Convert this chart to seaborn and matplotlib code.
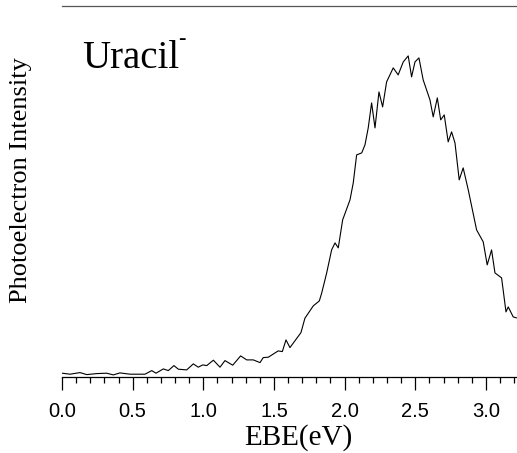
import numpy as np
import pandas as pd
import matplotlib
matplotlib.use("Agg")
import matplotlib.pyplot as plt
from matplotlib.ticker import MultipleLocator
import seaborn as sns

# Photoelectron spectrum of the uracil anion
ebe = [0.000, 0.057, 0.127, 0.175, 0.245, 0.316, 0.363, 0.410, 0.481, 0.587,
       0.635, 0.665, 0.717, 0.752, 0.792, 0.823, 0.882, 0.929, 0.964, 0.996,
       1.024, 1.071, 1.118, 1.153, 1.208, 1.264, 1.307, 1.354, 1.401, 1.424,
       1.460, 1.530, 1.559, 1.585, 1.613, 1.691, 1.719, 1.778, 1.821, 1.838,
       1.873, 1.908, 1.932, 1.955, 1.986, 2.038, 2.061, 2.085, 2.121, 2.144,
       2.167, 2.191, 2.215, 2.243, 2.269, 2.297, 2.344, 2.379, 2.415, 2.450,
       2.474, 2.498, 2.526, 2.556, 2.604, 2.627, 2.656, 2.680, 2.705, 2.733,
       2.757, 2.781, 2.811, 2.839, 2.875, 2.934, 2.981, 3.009, 3.040, 3.064,
       3.111, 3.142, 3.158, 3.193, 3.217]
intensity = [3.7, 2.7, 4.3, 2.3, 3.3, 3.7, 2.0, 4.0, 2.7, 2.7,
             6.3, 3.7, 8.0, 6.3, 11.3, 7.7, 7.0, 13.0, 9.7, 12.0,
             11.3, 16.7, 9.7, 16.3, 11.7, 21.0, 17.0, 17.0, 14.3, 19.3,
             19.7, 26.0, 25.3, 37.0, 29.3, 44.3, 58.7, 71.0, 76.0, 84,
             104, 127, 134, 129, 157, 177, 194, 222, 224, 232,
             249, 274, 249, 285, 270, 295, 309, 302, 315, 321,
             300, 315, 319, 297, 277, 260, 279, 257, 262, 235,
             245, 234, 197, 209, 187, 147, 135, 112, 127, 104,
             99, 65, 70, 60, 59]

df = pd.DataFrame({"EBE": ebe, "Intensity": intensity})

sns.set_style("white")
plt.rcParams["text.color"] = "black"
plt.rcParams["axes.labelcolor"] = "black"
plt.rcParams["xtick.color"] = "black"

fig = plt.figure(figsize=(5.17, 4.53), dpi=100)
ax = fig.add_axes([0.12, 0.168, 0.88, 0.819])

sns.lineplot(data=df, x="EBE", y="Intensity", ax=ax, color="black", linewidth=0.8)

ax.set_xlim(0, 3.22)
ax.set_ylim(0, 371)

for side in ["left", "right"]:
    ax.spines[side].set_visible(False)
ax.spines["top"].set_color("#555555")
ax.spines["top"].set_linewidth(0.9)
ax.spines["bottom"].set_color("black")
ax.spines["bottom"].set_linewidth(0.9)

ax.set_yticks([])
ax.xaxis.set_major_locator(MultipleLocator(0.5))
ax.xaxis.set_minor_locator(MultipleLocator(0.1))
ax.tick_params(axis="x", which="major", direction="out", length=9.4, width=0.9,
               bottom=True, labelsize=14.5, pad=8.5, colors="black")
ax.tick_params(axis="x", which="minor", direction="out", length=4.6, width=0.9,
               bottom=True, colors="black")
for lab in ax.get_xticklabels():
    lab.set_family("Liberation Sans")

ax.set_xlabel("EBE(eV)", family="Liberation Serif", fontsize=21, color="black")
ax.xaxis.set_label_coords(0.52, -0.128, transform=ax.transAxes)
ax.set_ylabel("Photoelectron Intensity", family="Liberation Serif", fontsize=19, color="black")
ax.yaxis.set_label_coords(-0.065, 0.53)

ax.text(0.045, 0.833, "Uracil", transform=ax.transAxes, color="black",
        family="Liberation Serif", fontsize=28, va="baseline", ha="left")
ax.text(0.256, 0.897, "-", transform=ax.transAxes, color="black",
        family="Liberation Serif", fontsize=16, va="baseline", ha="left")

fig.savefig("out.png", dpi=100)
